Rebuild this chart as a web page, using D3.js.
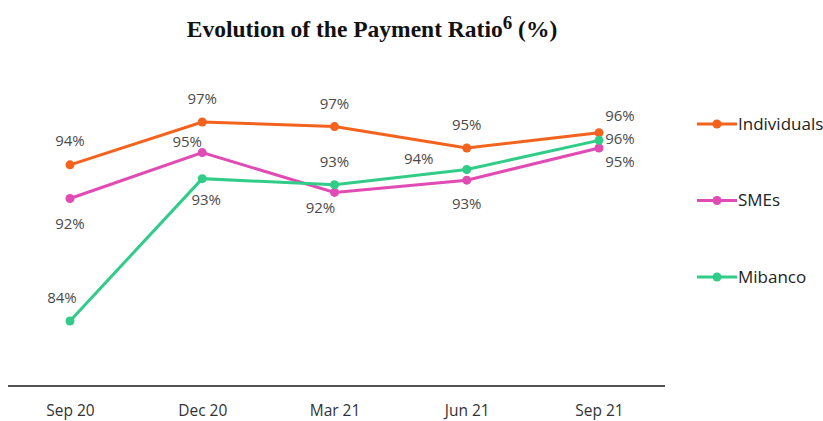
<!DOCTYPE html>
<html>
<head>
<meta charset="utf-8">
<script src="https://cdn.jsdelivr.net/npm/d3@7"></script>
<style>
  body { margin: 0; background: #fff; }
  svg { display: block; }
</style>
</head>
<body>
<svg id="chart" width="823" height="421"></svg>
<script>
// Data
const periods = ["Sep 20", "Dec 20", "Mar 21", "Jun 21", "Sep 21"];
const individuals = [94.2, 97.0, 96.7, 95.3, 96.3];
const smes = [92.0, 95.0, 92.4, 93.2, 95.3];
const mibanco = [84.0, 93.3, 92.9, 93.9, 95.8];
const individualsLabels = ["94%", "97%", "97%", "95%", "96%"];
const smesLabels = ["92%", "95%", "92%", "93%", "95%"];
const mibancoLabels = ["84%", "93%", "93%", "94%", "96%"];

// Colors
const colors = {
  individuals: "#f4631e",
  smes: "#e04bb4",
  mibanco: "#30cc88",
  label: "#4a4a4a",
  axis: "#1a1a1a"
};

// label offsets [dx, dy] relative to the point
const labelOffsets = {
  individuals: [[0, -19], [0, -18], [0, -18], [0, -18], [21, -12]],
  smes: [[0, 30], [-15, -6], [-14, 21], [0, 29], [21, 19]],
  mibanco: [[-8, -18], [4, 26], [0, -18], [-48, -5], [21, 4]]
};

const series = [
  { key: "individuals", name: "Individuals", values: individuals, labels: individualsLabels },
  { key: "smes", name: "SMEs", values: smes, labels: smesLabels },
  { key: "mibanco", name: "Mibanco", values: mibanco, labels: mibancoLabels }
];

const svg = d3.select("#chart");

const x = d3.scalePoint().domain(periods).range([70, 599]);
const y = d3.scaleLinear().domain([84, 97]).range([321, 122]);

// Title
const title = svg.append("text")
  .attr("x", 372)
  .attr("y", 37)
  .attr("text-anchor", "middle")
  .style("font-family", "'Liberation Serif', 'Times New Roman', serif")
  .style("font-weight", "bold")
  .style("font-size", "23.5px")
  .attr("fill", "#111");
title.append("tspan").text("Evolution of the Payment Ratio");
title.append("tspan").attr("dy", -8).style("font-size", "19px").text("6");
title.append("tspan").attr("dy", 8).text(" (%)");

// X axis
const xAxis = svg.append("g")
  .attr("transform", "translate(0,386)")
  .call(d3.axisBottom(x).tickSize(0).tickPadding(19));
xAxis.select(".domain").remove();
xAxis.append("line")
  .attr("x1", 8).attr("x2", 665)
  .attr("stroke", colors.axis)
  .attr("stroke-width", 1.6);
xAxis.selectAll(".tick text")
  .style("font-family", "'Open Sans', sans-serif")
  .style("font-size", "15.5px")
  .attr("fill", "#333");

const line = d3.line()
  .x((d, i) => x(periods[i]))
  .y(d => y(d));

// Lines and points
series.forEach(s => {
  const g = svg.append("g");
  g.append("path")
    .datum(s.values)
    .attr("d", line)
    .attr("fill", "none")
    .attr("stroke", colors[s.key])
    .attr("stroke-width", 3);
  g.selectAll("circle")
    .data(s.values)
    .enter().append("circle")
    .attr("cx", (d, i) => x(periods[i]))
    .attr("cy", d => y(d))
    .attr("r", 4.5)
    .attr("fill", colors[s.key]);
});

// Data labels
series.forEach(s => {
  svg.append("g").selectAll("text")
    .data(s.values)
    .enter().append("text")
    .attr("x", (d, i) => x(periods[i]) + labelOffsets[s.key][i][0])
    .attr("y", (d, i) => y(d) + labelOffsets[s.key][i][1])
    .attr("text-anchor", "middle")
    .style("font-family", "'Open Sans', sans-serif")
    .style("font-size", "15px")
    .attr("fill", colors.label)
    .text((d, i) => s.labels[i]);
});

// Legend
const legend = svg.append("g").attr("transform", "translate(697,0)");
const legendY = d3.scalePoint().domain(series.map(s => s.key)).range([124, 277]);
series.forEach(s => {
  const row = legend.append("g").attr("transform", `translate(0,${legendY(s.key)})`);
  row.append("line")
    .attr("x1", 0).attr("x2", 40)
    .attr("stroke", colors[s.key])
    .attr("stroke-width", 3);
  row.append("circle")
    .attr("cx", 20).attr("r", 4.5)
    .attr("fill", colors[s.key]);
  row.append("text")
    .attr("x", 41)
    .attr("dy", "0.35em")
    .style("font-family", "'Open Sans', sans-serif")
    .style("font-size", "17px")
    .attr("fill", "#222")
    .text(s.name);
});
</script>
</body>
</html>
